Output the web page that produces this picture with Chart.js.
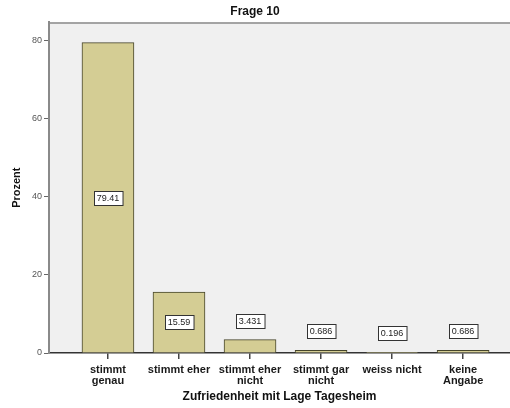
<!DOCTYPE html>
<html>
<head>
<meta charset="utf-8">
<script src="https://cdn.jsdelivr.net/npm/chart.js@4/dist/chart.umd.min.js"></script>
<style>
  html, body { margin: 0; padding: 0; background: #fff; }
  #wrap { width: 510px; height: 408px; }
</style>
</head>
<body>
<div id="wrap"><canvas id="frageChart" width="510" height="408"></canvas></div>
<script>
// Frage 10 - Zufriedenheit mit Lage Tagesheim
const categories = [
    ['stimmt', 'genau'],
    ['stimmt eher'],
    ['stimmt eher', 'nicht'],
    ['stimmt gar', 'nicht'],
    ['weiss nicht'],
    ['keine', 'Angabe']
];
const percentages = [79.41, 15.59, 3.431, 0.686, 0.196, 0.686];
const percentLabels = ['79.41', '15.59', '3.431', '0.686', '0.196', '0.686'];
const yTicks = [0, 20, 40, 60, 80];

// plot background and top frame line
const plotBackground = {
    id: 'plotBackground',
    beforeDraw(chart) {
        const ctx = chart.ctx;
        const a = chart.chartArea;
        ctx.save();
        ctx.fillStyle = '#f0f0f0';
        ctx.fillRect(a.left, a.top, chart.width - a.left, a.bottom - a.top);
        ctx.strokeStyle = '#8a8a8a';
        ctx.lineWidth = 1.5;
        ctx.beginPath();
        ctx.moveTo(a.left, a.top + 0.5);
        ctx.lineTo(chart.width, a.top + 0.5);
        ctx.stroke();
        ctx.restore();
    }
};

// boxed value labels
const valueBoxes = {
    id: 'valueBoxes',
    afterDatasetsDraw(chart) {
        const ctx = chart.ctx;
        const meta = chart.getDatasetMeta(0);
        ctx.save();
        ctx.font = '9px "Liberation Sans", Arial, sans-serif';
        ctx.textAlign = 'center';
        ctx.textBaseline = 'middle';
        meta.data.forEach((bar, i) => {
            const txt = percentLabels[i];
            const w = ctx.measureText(txt).width + 6;
            const h = 14;
            const barH = bar.base - bar.y;
            let cy;
            if (barH > 40) {
                cy = (bar.y + bar.base) / 2;
            } else {
                cy = bar.y - 19;
            }
            const x0 = Math.round(bar.x - w / 2) + 0.5;
            const y0 = Math.round(cy - h / 2) + 0.5;
            ctx.fillStyle = '#ffffff';
            ctx.fillRect(x0, y0, w, h);
            ctx.strokeStyle = '#333333';
            ctx.lineWidth = 1;
            ctx.strokeRect(x0, y0, w, h);
            ctx.fillStyle = '#222222';
            ctx.fillText(txt, bar.x, cy + 0.5);
        });
        ctx.restore();
    }
};

const ctx = document.getElementById('frageChart').getContext('2d');

new Chart(ctx, {
    type: 'bar',
    data: {
        datasets: [{
            label: 'Prozent',
            data: percentages.map((v, i) => ({ x: i, y: v })),
            backgroundColor: '#d4cd94',
            borderColor: '#45442a',
            borderWidth: 1,
            borderSkipped: 'bottom',
            barThickness: 52
        }]
    },
    options: {
        responsive: false,
        animation: false,
        layout: { padding: { left: 0, right: 0, top: 0, bottom: 0 } },
        plugins: {
            legend: { display: false },
            tooltip: { enabled: false },
            title: {
                display: true,
                text: 'Frage 10',
                color: '#111',
                font: { family: '"Liberation Sans", Arial, sans-serif', size: 12, weight: 'bold' },
                padding: { top: 4, bottom: 4 }
            }
        },
        scales: {
            x: {
                type: 'linear',
                offset: false,
                min: -0.83,
                max: 5.66,
                afterBuildTicks(scale) {
                    scale.ticks = categories.map((c, i) => ({ value: i }));
                },
                afterFit(scale) { scale.height = 55; },
                ticks: {
                    autoSkip: false,
                    maxRotation: 0,
                    color: '#1a1a1a',
                    padding: 5,
                    font: { family: '"Liberation Sans", Arial, sans-serif', size: 11, weight: 'bold', lineHeight: 1.0 },
                    callback: (value) => categories[value] || ''
                },
                grid: {
                    offset: false,
                    drawOnChartArea: false,
                    tickLength: 6,
                    lineWidth: 1.5,
                    color: '#444'
                },
                border: { color: '#333', width: 1.5 },
                title: {
                    display: true,
                    text: 'Zufriedenheit mit Lage Tagesheim',
                    color: '#111',
                    font: { family: '"Liberation Sans", Arial, sans-serif', size: 12, weight: 'bold' },
                    padding: 4
                }
            },
            y: {
                min: 0,
                max: 84.6,
                afterBuildTicks(scale) {
                    scale.ticks = yTicks.map(v => ({ value: v }));
                },
                afterFit(scale) { scale.width = 49; },
                ticks: {
                    color: '#555',
                    padding: 2,
                    font: { family: '"Liberation Sans", Arial, sans-serif', size: 9 }
                },
                grid: {
                    drawOnChartArea: false,
                    tickLength: 5,
                    color: '#666'
                },
                border: { color: '#8a8a8a', width: 2 },
                title: {
                    display: true,
                    text: 'Prozent',
                    color: '#111',
                    font: { family: '"Liberation Sans", Arial, sans-serif', size: 11, weight: 'bold' },
                    padding: 10
                }
            }
        }
    },
    plugins: [plotBackground, valueBoxes]
});
</script>
</body>
</html>
